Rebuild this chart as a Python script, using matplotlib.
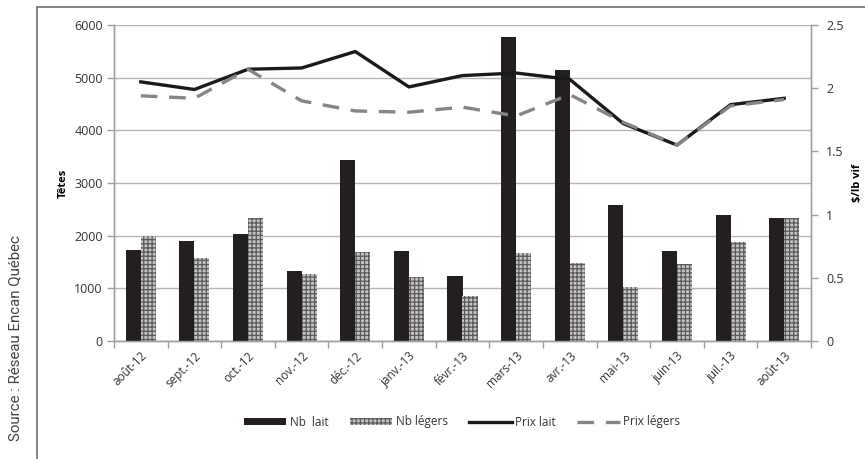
import matplotlib
matplotlib.use("Agg")
import matplotlib.pyplot as plt
import numpy as np
from matplotlib.lines import Line2D

plt.rcParams['font.family'] = ['Open Sans', 'DejaVu Sans']
plt.rcParams['hatch.linewidth'] = 0.9

months = ["août-12", "sept.-12", "oct.-12", "nov.-12", "déc.-12", "janv.-13",
          "févr.-13", "mars-13", "avr.-13", "mai-13", "juin-13", "juil.-13", "août-13"]
nb_lait = [1730, 1900, 2030, 1330, 3430, 1710, 1230, 5780, 5150, 2580, 1710, 2390, 2340]
nb_legers = [2000, 1570, 2340, 1270, 1690, 1215, 855, 1670, 1480, 1020, 1460, 1880, 2340]
prix_lait = [2.05, 1.99, 2.15, 2.16, 2.29, 2.01, 2.10, 2.12, 2.07, 1.72, 1.55, 1.87, 1.92]
prix_legers = [1.94, 1.92, 2.15, 1.90, 1.82, 1.81, 1.85, 1.78, 1.95, 1.73, 1.55, 1.86, 1.91]
left_ticks = [0, 1000, 2000, 3000, 4000, 5000, 6000]
right_ticks = [0, 0.5, 1, 1.5, 2, 2.5]

fig = plt.figure(figsize=(8.65, 4.59), dpi=100)
ax = fig.add_axes([114 / 865, 118 / 459, (811 - 114) / 865, (341 - 25) / 459])
ax2 = ax.twinx()

x = np.arange(len(months))
w = 0.28
grid_c = "#b4b4b4"
spine_c = "#a0a0a0"
txt_c = "#333333"

ax.bar(x - w / 2, nb_lait, width=w, color="#231f20", linewidth=0, zorder=3, label="Nb  lait")
ax.bar(x + w / 2, nb_legers, width=w, facecolor="#c4c4c4", edgecolor="#5a5a5a",
       hatch="++++", linewidth=0, zorder=3, label="Nb légers")

ax2.plot(x, prix_lait, color="#1a1a1a", lw=2.4, label="Prix lait", zorder=4)
ax2.plot(x, prix_legers, color="#858585", lw=2.4, dashes=(5, 3.5), label="Prix légers", zorder=4)

ax.set_xlim(-0.5, len(months) - 0.5)
ax.set_ylim(0, 6000)
ax2.set_ylim(0, 2.5)
ax.set_yticks(left_ticks)
ax2.set_yticks(right_ticks)
ax2.set_yticklabels(["0", "0.5", "1", "1.5", "2", "2.5"])

ax.yaxis.grid(True, color=grid_c, lw=1.0, zorder=0)
ax.set_axisbelow(True)

ax.set_xticks(x)
ax.set_xticklabels(months, rotation=45, ha="right", rotation_mode="anchor", fontsize=8.5, color=txt_c)
ax.tick_params(axis="x", length=0, pad=6)
ax.set_xticks(np.arange(-0.5, len(months), 1), minor=True)
ax.tick_params(axis="x", which="minor", length=5, color=spine_c, width=1)

ax.tick_params(axis="y", length=5, color=spine_c, width=1, labelsize=9, labelcolor=txt_c, pad=3)
ax2.tick_params(axis="y", length=5, color=spine_c, width=1, labelsize=9, labelcolor=txt_c, pad=6)

for a in (ax, ax2):
    a.spines["top"].set_visible(False)
    for s in ("left", "right", "bottom"):
        a.spines[s].set_color(spine_c)
        a.spines[s].set_linewidth(1.0)

ax.set_ylabel("Têtes", fontsize=8, fontweight="bold", labelpad=4)
ax2.set_ylabel("$/lb vif", fontsize=8, fontweight="bold", labelpad=6)

h1, l1 = ax.get_legend_handles_labels()
h2, l2 = ax2.get_legend_handles_labels()
fig.legend(h1 + h2, l1 + l2, loc="center", bbox_to_anchor=(462 / 865, 1 - 422 / 459),
           ncol=4, frameon=False, fontsize=8.5, handlelength=3.6, handleheight=0.55,
           columnspacing=1.8, handletextpad=0.3, labelcolor=txt_c)

# outer frame (top and left edges)
frame_c = "#7a7a7a"
fig.add_artist(Line2D([37 / 865, 1.0], [1 - 7 / 459, 1 - 7 / 459], color=frame_c, lw=1.3,
                      transform=fig.transFigure))
fig.add_artist(Line2D([37 / 865, 37 / 865], [0, 1 - 7 / 459], color=frame_c, lw=1.3,
                      transform=fig.transFigure))

fig.text(15 / 865, 1 - 338 / 459, "Source : Réseau Encan Québec", rotation=90,
         ha="center", va="center", fontsize=10.8, color="#444444", family=["Roboto", "DejaVu Sans"],
         fontweight="normal")

fig.savefig("out.png", dpi=100)
